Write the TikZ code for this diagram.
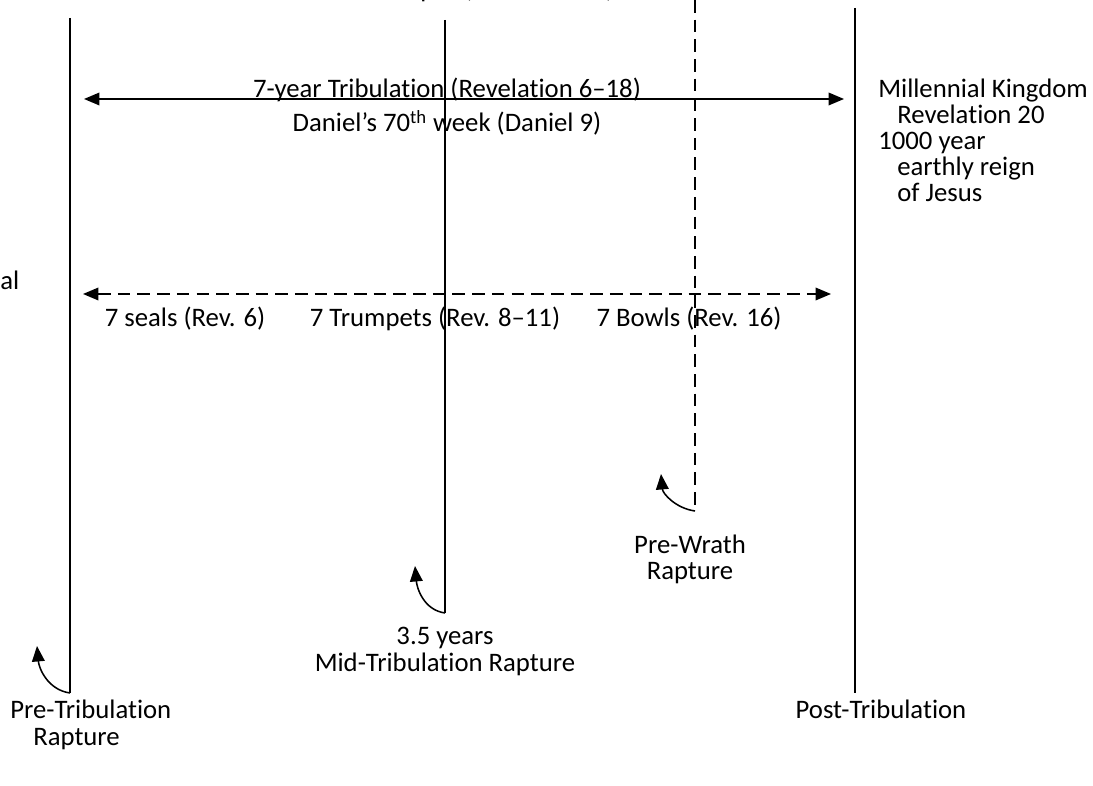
\documentclass[tikz,border=0pt]{standalone}
\usepackage{fontspec}
\setmainfont{Carlito}[Ligatures=NoCommon]
\usetikzlibrary{arrows.meta,positioning}

\begin{document}
\begin{tikzpicture}[
    x=0.025cm, y=-0.025cm,
    txt/.style={font=\fontsize{19}{23}\selectfont, inner sep=0pt, anchor=base},
    txtl/.style={txt, anchor=base west},
    period/.style={line width=1.1pt},
    dashedline/.style={period, dash pattern=on 9pt off 5pt},
    span/.style={period, {Triangle[length=11pt,width=9pt]}-{Triangle[length=11pt,width=9pt]}},
    hook/.style={period, -{Triangle[length=11pt,width=9pt]}}
    ]
    \useasboundingbox (0,0) rectangle (1093,786);

    \coordinate (pretop) at (70,18);
    \coordinate (prebot) at (70,693);
    \coordinate (midtop) at (445,20);
    \coordinate (midbot) at (445,613);
    \coordinate (wrathtop) at (695,0);
    \coordinate (wrathbot) at (695,511);
    \coordinate (posttop) at (855,8);
    \coordinate (postbot) at (855,693);

    \draw[period] (pretop) -- (prebot);
    \draw[period] (midtop) -- (midbot);
    \draw[dashedline] (wrathtop) -- (wrathbot);
    \draw[period] (posttop) -- (postbot);

    \coordinate (pretip) at (37,646);
    \coordinate (midtip) at (415,566);
    \coordinate (wrathtip) at (661,474);
    \draw[hook] (prebot) to[out=172,in=-85] (pretip);
    \draw[hook] (midbot) to[out=172,in=-85] (midtip);
    \draw[hook] (wrathbot) to[out=172,in=-85] (wrathtip);

    \coordinate (tribL) at (84,99);
    \coordinate (tribR) at (844,99);
    \draw[span] (tribL) -- (tribR);
    \coordinate (judgL) at (83,294);
    \coordinate (judgR) at (831,294);
    \draw[span, dash pattern=on 9pt off 5pt] (judgL) -- (judgR);

    \node (clipped) [txt] at (499,-2) {Eclipse (Revelation 6)};
    \node (trib) [txt] at (447,98) {7-year Tribulation (Revelation 6–18)};
    \node (daniel) [txt] at (447,132) {Daniel’s 70\textsuperscript{th} week (Daniel 9)};

    \node (mk1) [txtl] at (878,98) {Millennial Kingdom};
    \node (mk2) [txtl] at (897,124) {Revelation 20};
    \node (mk3) [txtl] at (878,150) {1000 year};
    \node (mk4) [txtl] at (897,176) {earthly reign};
    \node (mk5) [txtl] at (897,202) {of Jesus};

    \node (edge) [txtl] at (0,290) {al};

    \node (seals) [txt] at (185,327) {7 seals (Rev. 6)};
    \node (trumpets) [txt] at (435,327) {7 Trumpets (Rev. 8–11)};
    \node (bowls) [txt] at (689,327) {7 Bowls (Rev. 16)};

    \node (prewrath1) [txt] at (690,554) {Pre-Wrath};
    \node (prewrath2) [txt] at (690,580) {Rapture};
    \node (midtrib1) [txt] at (445,645) {3.5 years};
    \node (midtrib2) [txt] at (445,671) {Mid-Tribulation Rapture};
    \node (pretrib1) [txtl] at (10,719) {Pre-Tribulation};
    \node (pretrib2) [txtl] at (33,745) {Rapture};
    \node (posttrib) [txt] at (881,719) {Post-Tribulation};
\end{tikzpicture}
\end{document}
